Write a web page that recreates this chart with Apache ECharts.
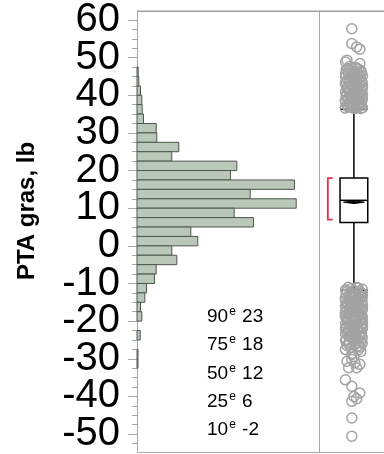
<!DOCTYPE html>
<html><head><meta charset="utf-8">
<script src="https://cdn.jsdelivr.net/npm/echarts@6/dist/echarts.min.js"></script>
<style>html,body{margin:0;padding:0;background:#fff}#c{width:384px;height:454px}</style>
</head><body><div id="c"></div>
<script>
// ---- data ----
const binLow = [45, 42.5, 40, 37.5, 35, 32.5, 30, 27.5, 25, 22.5, 20, 17.5, 15, 12.5, 10, 7.5, 5, 2.5, 0, -2.5, -5, -7.5, -10, -12.5, -15, -17.5, -20, -22.5, -25, -27.5, -30, -32.5];
const binWidth = 2.5;
const binCounts = [1.2, 1.8, 3.5, 4.8, 5.2, 6.5, 19.2, 19.8, 41.8, 34.8, 99.8, 93.5, 157.5, 113.2, 159.2, 97.2, 116.5, 53.8, 60.8, 34.8, 39.8, 19.2, 17.5, 9.5, 7.8, 3.5, 4.8, 0, 3.2, 0, 1, 1];
const majorTicks = [-50, -40, -30, -20, -10, 0, 10, 20, 30, 40, 50, 60];
const boxStats = [-11.8, 6.1, 12, 17.9, 36.1];   // lower whisker, q1, median, q3, upper whisker
const meanDiamond = [11.5, 11.15, 11.85];         // mean, lower, upper
const shortestHalf = [6.9, 17.9];
const topOutliers = [[-0.15,57.4],[-0.15,53.5],[0.2,52.6],[0.43,52.0],[-0.5,49.1],[-0.6,48.6],[0.43,48.2],
[-0.3,47.4],[0.2,47.0],[-0.55,46.6],[0.5,46.3],[0.0,46.0],[-0.4,45.6],[0.35,45.3],[0.62,44.9],[-0.6,44.7],[-0.1,44.4],[0.3,44.1],[-0.45,43.8],[0.55,43.5],[0.05,43.2],[-0.62,42.9],[0.4,42.6],[-0.2,42.4],[0.62,42.1],[-0.5,41.8],[0.15,41.6],[-0.05,41.3],[0.5,41.0],[-0.6,40.8],[0.3,40.5],[-0.3,40.2],[0.62,40.0],[0.0,39.7],[-0.55,39.5],[0.4,39.2],[-0.15,38.9],[0.6,38.7],[-0.62,38.4],[0.2,38.2],[-0.35,37.9],[0.5,37.7],[0.0,37.4],[-0.5,37.2],[0.35,36.9],[-0.2,36.7],[0.62,36.5],[-0.62,36.4],[0.1,36.3],[0.3,39.0],[-0.3,43.0],[0.2,45.0],[-0.1,37.0],[0.45,38.0],
[0.1,47.2],[-0.45,46.9],[0.35,46.7],[-0.2,46.2],[0.55,45.8],[-0.6,45.5],[0.0,45.2],[0.45,44.6],[-0.3,44.2],[0.15,43.9],[-0.55,43.4],[0.6,43.1],[-0.15,42.7],[0.3,42.2],[-0.4,42.0],[0.0,41.7],[0.6,41.4],[-0.3,41.1],[0.2,40.7],[-0.5,40.4],[0.45,40.2],[-0.1,39.9],[0.6,39.4],[-0.4,39.1],[0.1,38.5],[-0.6,38.1],[0.35,37.8],[-0.25,37.5],[0.55,37.1],[-0.45,36.8],[0.25,36.6],[-0.05,36.4],[0.5,36.3]];
const bottomOutliers = [[-0.4,-11.0],[0.3,-11.2],[0.6,-11.5],[-0.6,-11.7],[0.0,-11.9],[0.45,-12.2],[-0.25,-12.4],[0.62,-12.7],[-0.55,-12.9],[0.15,-13.1],[-0.1,-13.4],[0.5,-13.6],[-0.62,-13.9],[0.25,-14.1],[-0.35,-14.3],[0.58,-14.6],[0.05,-14.8],[-0.5,-15.1],[0.35,-15.3],[-0.2,-15.5],[0.62,-15.8],[-0.6,-16.0],[0.1,-16.3],[0.45,-16.5],[-0.3,-16.7],[0.6,-17.0],[-0.05,-17.2],[-0.58,-17.5],[0.3,-17.7],[-0.4,-17.9],[0.55,-18.2],[0.0,-18.4],[-0.62,-18.7],[0.2,-18.9],[-0.2,-19.1],[0.6,-19.4],[-0.5,-19.6],[0.4,-19.9],[-0.1,-20.1],[0.62,-20.4],[-0.6,-20.6],[0.15,-20.8],[-0.3,-21.1],[0.5,-21.3],[-0.55,-21.6],[0.05,-21.8],[0.6,-22.0],[-0.4,-22.3],[0.25,-22.5],[-0.15,-22.8],[0.55,-23.0],[-0.6,-23.3],[0.1,-23.5],[0.4,-23.8],[-0.35,-24.0],[0.6,-24.3],[-0.05,-24.5],[-0.55,-24.8],[0.3,-25.0],[0.5,-25.4],[-0.3,-25.7],[0.1,-26.1],[-0.5,-26.4],[0.45,-26.8],
[0.0,-12.0],[-0.3,-14.9],[0.3,-18.0],[0.0,-21.0],[-0.2,-23.9],[0.35,-13.0],[-0.45,-19.0],[0.2,-16.0],
[0.2,-11.1],[-0.2,-11.4],[-0.5,-12.1],[0.5,-12.5],[0.1,-12.8],[-0.35,-13.3],[0.6,-13.5],[-0.05,-13.8],[0.4,-14.4],[-0.6,-14.6],[0.15,-15.0],[0.55,-15.2],[-0.45,-15.6],[0.0,-15.9],[0.35,-16.2],[-0.55,-16.4],[0.6,-16.8],[-0.15,-17.0],[0.2,-17.4],[-0.62,-17.8],[0.45,-18.1],[-0.25,-18.5],[0.6,-18.8],[-0.5,-19.3],[0.1,-19.5],[-0.2,-19.8],[0.5,-20.0],[-0.45,-20.3],[0.3,-20.6],[-0.05,-21.2],[0.62,-21.5],[-0.6,-21.9],[0.2,-22.2],[-0.3,-22.6],[0.45,-22.9],[-0.5,-23.1],[0.0,-23.4],[0.55,-23.7],[-0.25,-24.2],[0.25,-24.6],[-0.6,-25.1],[0.0,-25.3],[0.6,-25.8],[-0.4,-26.0],[0.3,-26.5],[-0.2,-27.0],[0.5,-28.0],[0.0,-29.3],
[-0.61,-27.5],[0.31,-27.6],[-0.15,-28.8],[-0.5,-30.6],[0.07,-31.0],[0.43,-31.4],[-0.38,-32.3],[0.2,-32.3],[-0.15,-30.1],
[-0.61,-35.5],[-0.15,-37.2],[0.43,-39.0],[0.0,-39.9],[0.2,-40.5],[-0.15,-41.2],[-0.15,-45.6],[-0.15,-50.4]];
const quantileNames = ['90', '75', '50', '25', '10'];
const quantileValues = [23, 18, 12, 6, -2];
const axisTitle = 'PTA gras, lb';

// ---- chart ----
const yMin = -54.6, yMax = 62.1;
const minorTicks = [];
for (let v = -52.5; v <= 60; v += 2.5) minorTicks.push(v);
// split the labels over two overlaid axes so none get hidden as "overlapping"
const labelsA = majorTicks.filter((v, i) => i % 2 === 0);
const labelsB = majorTicks.filter((v, i) => i % 2 === 1);
const frameColor = '#a8a8a8';

const histData = binLow.map((lo, i) => [lo, lo + binWidth, binCounts[i]]);

const graphics = [{
  type: 'text', x: 27, y: 211, rotation: Math.PI / 2,
  style: { text: axisTitle, font: 'bold 24px "Liberation Sans"', fill: '#000', align: 'center', verticalAlign: 'middle' }
}, {
  type: 'rect', z: 100, silent: true,
  shape: { x: 137, y: 10.5, width: 248, height: 1.5 },
  style: { fill: '#a0a0a0' }
}, {
  type: 'rect', z: 100, silent: true,
  shape: { x: 137, y: 452, width: 248, height: 1 },
  style: { fill: frameColor }
}];
quantileNames.forEach((q, i) => {
  graphics.push({
    type: 'text', x: 207, y: 316.5 + i * 28.4,
    style: {
      text: '{n|' + q + '}{s|e}{n| ' + quantileValues[i] + '}',
      verticalAlign: 'middle', align: 'left',
      rich: {
        n: { fontFamily: 'Liberation Sans', fontSize: 19, color: '#000', lineHeight: 22 },
        s: { fontFamily: 'Liberation Sans', fontSize: 12, color: '#000', verticalAlign: 'top', lineHeight: 22, padding: [0, 1, 8, 1] }
      }
    }
  });
});

const labelStyle = (vals) => ({ show: true, customValues: vals, showMinLabel: true, showMaxLabel: true, hideOverlap: false,
  margin: 17, fontSize: 40, lineHeight: 28, fontFamily: 'Liberation Sans', color: '#000', padding: [12, 0, 0, 0] });

const option = {
  animation: false,
  grid: [
    { left: 137, top: 11, width: 182, height: 441, show: false },
    { left: 319, top: 11, width: 68, height: 441, show: false }
  ],
  xAxis: [
    { type: 'value', gridIndex: 0, min: 0, max: 182, show: false },
    { type: 'value', gridIndex: 1, min: -2.517, max: 2.172, show: false }
  ],
  yAxis: [
    { type: 'value', gridIndex: 0, min: yMin, max: yMax, position: 'left',
      axisLine: { show: true, onZero: false, lineStyle: { color: frameColor, width: 1 } },
      axisTick: { show: true, length: 9, customValues: majorTicks, lineStyle: { color: frameColor } },
      axisLabel: labelStyle(labelsA),
      splitLine: { show: false } },
    { type: 'value', gridIndex: 0, min: yMin, max: yMax, position: 'left', offset: 0,
      axisLine: { show: false },
      axisTick: { show: true, length: 5, customValues: minorTicks, lineStyle: { color: frameColor } },
      axisLabel: labelStyle(labelsB), splitLine: { show: false } },
    { type: 'value', gridIndex: 1, min: yMin, max: yMax, position: 'left',
      axisLine: { show: true, onZero: false, lineStyle: { color: frameColor, width: 1 } },
      axisTick: { show: false }, axisLabel: { show: false }, splitLine: { show: false } }
  ],
  graphic: graphics,
  series: [
    {
      type: 'custom', xAxisIndex: 0, yAxisIndex: 0,
      data: histData,
      encode: { x: 2, y: [0, 1] },
      renderItem: function (params, api) {
        const lo = api.value(0), hi = api.value(1), c = api.value(2);
        if (!(c > 0)) return;
        const p1 = api.coord([0, hi]);
        const p2 = api.coord([c, lo]);
        return { type: 'rect', shape: { x: p1[0], y: p1[1], width: p2[0] - p1[0], height: p2[1] - p1[1] },
          style: { fill: '#b9c8b8', stroke: '#4c564d', lineWidth: 1 } };
      }
    },
    {
      type: 'custom', xAxisIndex: 1, yAxisIndex: 2,
      data: [boxStats.concat(meanDiamond, shortestHalf)],
      encode: { y: [0, 4] },
      renderItem: function (params, api) {
        const lw = api.value(0), q1 = api.value(1), med = api.value(2), q3 = api.value(3), uw = api.value(4);
        const mean = api.value(5), mLo = api.value(6), mHi = api.value(7);
        const sLo = api.value(8), sHi = api.value(9);
        const c = (x, y) => api.coord([x, y]);
        const black = { stroke: '#000', lineWidth: 1.5, fill: null };
        const line = (a, b, st) => ({ type: 'line', shape: { x1: a[0], y1: a[1], x2: b[0], y2: b[1] }, style: st });
        const bl = c(-1, q1), tr = c(1, q3);
        const bxL = -1.53, bxR = -1.88;
        return { type: 'group', children: [
          line(c(0, q3), c(0, uw), black),
          line(c(-1, uw), c(1, uw), black),
          line(c(0, q1), c(0, lw), black),
          line(c(-1, lw), c(1, lw), black),
          { type: 'rect', shape: { x: bl[0], y: tr[1], width: tr[0] - bl[0], height: bl[1] - tr[1] }, style: { fill: '#fff', stroke: '#000', lineWidth: 1.5 } },
          line(c(-1, med), c(1, med), { stroke: '#000', lineWidth: 1.5 }),
          { type: 'polygon', shape: { points: [c(-0.75, mean), c(0, mHi), c(0.75, mean), c(0, mLo)] }, style: { fill: '#000', stroke: '#000', lineWidth: 1 } },
          { type: 'polyline', shape: { points: [c(bxL, sHi), c(bxR, sHi), c(bxR, sLo), c(bxL, sLo)] }, style: { stroke: '#e8304a', lineWidth: 1.8, fill: null } }
        ] };
      }
    },
    {
      type: 'scatter', xAxisIndex: 1, yAxisIndex: 2,
      data: topOutliers.concat(bottomOutliers),
      symbol: 'circle', symbolSize: 10,
      itemStyle: { color: 'rgba(0,0,0,0)', borderColor: '#a3a3a3', borderWidth: 1.5, opacity: 1 },
      emphasis: { disabled: true }
    }
  ]
};
const chart = echarts.init(document.getElementById('c'), null, { renderer: 'canvas' });
chart.setOption(option);
</script>
</body></html>
